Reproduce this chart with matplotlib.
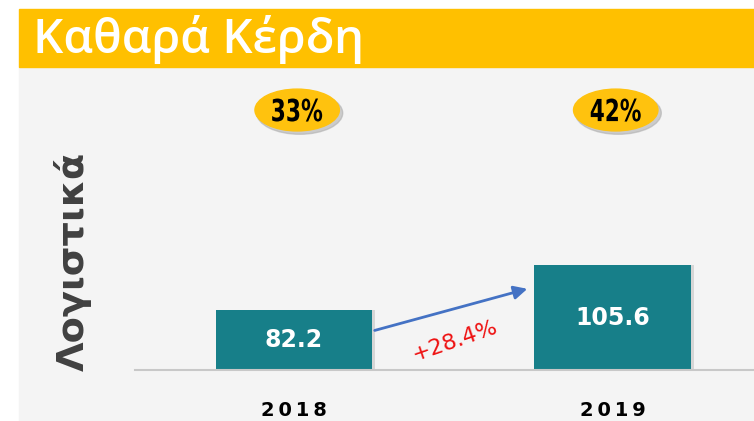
import matplotlib.pyplot as plt
from matplotlib.patches import Rectangle, Ellipse, PathPatch
from matplotlib.textpath import TextPath
from matplotlib.font_manager import FontProperties
from matplotlib.transforms import blended_transform_factory, Affine2D, ScaledTranslation

years = ['2018', '2019']
profit = [82.2, 105.6]
shares = ['33%', '42%']
growth = '+28.4%'
title = 'Καθαρά Κέρδη'
ylabel = 'Λογιστικά'

W, H = 754, 421
fig = plt.figure(figsize=(W / 100, H / 100), dpi=100)

def fx(px):
    return px / W

def fy(py):
    return 1 - py / H

# panel background and header band
fig.patches.append(Rectangle((fx(19), 0), 1 - fx(19), fy(67), transform=fig.transFigure,
                             color='#f4f4f4', zorder=-10))
fig.patches.append(Rectangle((fx(19), fy(67)), 1 - fx(19), fy(9) - fy(67), transform=fig.transFigure,
                             color='#ffc000', zorder=-10))
fig.text(fx(33), fy(40), title, color='white', fontsize=34, family='Open Sans',
         fontweight='semibold', va='center', ha='left')
fig.text(fx(73), fy(261), ylabel, color='#404040', fontsize=27.5, fontweight='bold',
         rotation=90, ha='center', va='center')

ax = fig.add_axes([fx(135), fy(370), 1 - fx(135), fy(67) - fy(370)])
ax.set_facecolor('none')
x = list(range(len(years)))
ax.set_xlim(-0.499, 1.444)
ax.set_ylim(51, 208.6)

# shadows then bars
ax.bar([i + 0.01 for i in x], profit, width=0.49, bottom=0, color='#d6d6d6', zorder=1)
bars = ax.bar(x, profit, width=0.49, color='#177f89', zorder=2)
for b, v in zip(bars, profit):
    ax.text(b.get_x() + b.get_width() / 2, 51 + (v - 51) / 2, f'{v:.1f}', color='white',
            fontsize=17, fontweight='bold', ha='center', va='center', zorder=3)

for s in ['top', 'right', 'left']:
    ax.spines[s].set_visible(False)
ax.spines['bottom'].set_color('#c8c8c8')
ax.spines['bottom'].set_linewidth(1.5)
ax.set_yticks([])
ax.set_xticks(x)
ax.set_xticklabels(['\u2009'.join(y) for y in years], fontsize=14, fontweight='bold')
ax.tick_params(axis='x', length=0, pad=22)

# share badges above each bar, with narrow (squeezed) text
tr = blended_transform_factory(ax.transData, ax.transAxes)
fp = FontProperties(family='DejaVu Sans', weight='bold')
for i, s in zip(x, shares):
    ax.add_patch(Ellipse((i + 0.018, 0.848), 0.27, 0.14, transform=tr, color='#b0b0b0',
                         alpha=0.6, zorder=1, clip_on=False))
    ax.add_patch(Ellipse((i + 0.01, 0.858), 0.265, 0.138, transform=tr, color='#ffc20e', zorder=2,
                         clip_on=False))
    tp = TextPath((0, 0), s, size=20, prop=fp)
    ext = tp.get_extents()
    sq = Affine2D().translate(-(ext.x0 + ext.x1) / 2, -(ext.y0 + ext.y1) / 2) \
        .scale(50 / ext.width, 23 / ext.height)
    ax.add_patch(PathPatch(tp, transform=sq + ScaledTranslation(i + 0.01, 0.858, tr),
                           color='black', lw=0, zorder=3, clip_on=False))

# growth arrow
ax.annotate('', xy=(0.741, profit[1] - 12), xytext=(0.245, profit[0] - 11),
            arrowprops=dict(arrowstyle='-|>', color='#4472c4', lw=2, mutation_scale=20), zorder=4)
ax.text(0.505, profit[0] - 16, growth, color='#ee1111', fontsize=16, rotation=19,
        ha='center', va='center', zorder=4)

fig.savefig('out.png', dpi=100)
